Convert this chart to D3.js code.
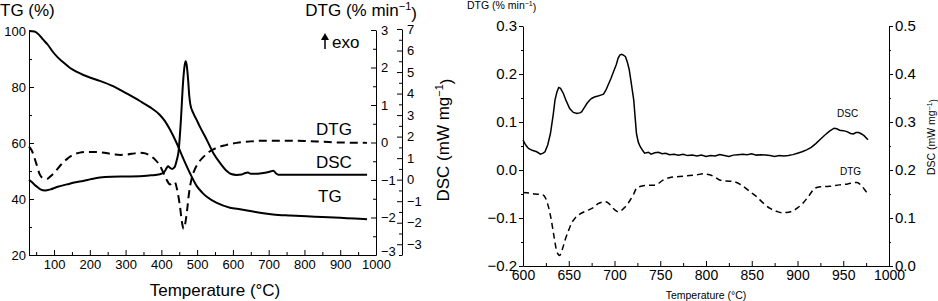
<!DOCTYPE html>
<html>
<head>
<meta charset="utf-8">
<script src="https://cdn.jsdelivr.net/npm/d3@7"></script>
<style>
  html, body { margin: 0; padding: 0; background: #fff; }
  svg { display: block; font-family: "Liberation Sans", Arial, Helvetica, sans-serif; }
  .axis path, .axis line { stroke: #000; stroke-width: 1; }
  .axis text { fill: #000; }
</style>
</head>
<body>
<svg id="chart" width="938" height="301"></svg>
<script>
// ---------- Left panel data (full range) ----------
const leftTG_T = [30,45,55,69,83,97,111,125,145,164,182,200,228,265,304,340,368,396,410,424,443,461,480,499,515,527,555,592,620,648,680,712,760,806,850,900,940,975];
const leftTG   = [100,99.8,99,97,95,92.5,90.5,88.9,86.8,85.4,84.3,83.4,82.2,80.3,77.6,75.0,72.8,70.0,67.8,64.8,59.9,54.5,49.2,44.6,42.2,40.8,38.6,36.9,36.3,35.7,35.0,34.5,34.1,33.8,33.6,33.3,33.0,32.8];

const leftDTG_T = [30,37,50,60,69,80,89,103,117,135,153,172,192,228,265,285,304,325,340,355,368,382,396,408,418,424,430,437,445,452,458,462,467,472,478,485,492,503,517,535,555,580,611,650,700,750,800,850,900,975];
const leftDTG   = [-0.11,-0.2,-0.55,-0.85,-0.95,-0.97,-0.91,-0.78,-0.62,-0.45,-0.33,-0.27,-0.25,-0.26,-0.31,-0.33,-0.32,-0.29,-0.27,-0.29,-0.35,-0.45,-0.62,-0.85,-1.05,-1.12,-1.08,-1.05,-1.3,-1.7,-2.15,-2.3,-2.15,-1.8,-1.3,-0.95,-0.75,-0.55,-0.39,-0.24,-0.14,-0.07,-0.01,0.03,0.05,0.05,0.04,0.02,0.0,-0.01];

const leftDSC_T = [30,37,50,62,75,90,110,136,160,181,205,228,260,300,340,370,396,408,415,419,424,430,437,443,448,454,461,465,468,471,475,478,481,489,498,508,527,545,564,583,595,610,625,635,642,650,670,690,705,713,720,727,750,800,850,900,975];
const leftDSC   = [0.0,-0.1,-0.3,-0.45,-0.5,-0.45,-0.33,-0.22,-0.12,-0.06,0.03,0.1,0.14,0.15,0.16,0.2,0.25,0.35,0.55,0.62,0.55,0.5,0.58,0.9,1.3,2.6,4.6,5.3,5.5,5.3,4.6,3.9,3.5,3.1,2.8,2.45,1.85,1.24,0.78,0.4,0.26,0.22,0.24,0.31,0.33,0.27,0.28,0.32,0.38,0.42,0.3,0.23,0.23,0.23,0.23,0.23,0.23];

const leftXTicks   = [100,200,300,400,500,600,700,800,900,1000];
const leftTGTicks  = [20,40,60,80,100];
const leftDTGTicks = [-3,-2,-1,0,1,2,3];
const leftDSCTicks = [-3,-2,-1,0,1,2,3,4,5,6,7];

// ---------- Right panel data (600-1000 zoom) ----------
const rightDSC_T = [600,603,606,610,615,619,622,624,627,630,633,635,637,639,641,644,647,651,655,659,662,664,667,670,673,675,678,682,685,688,691,693,696,699,702,704,706,708,710,712,714,716,718,721,724,726,728,731,733,737,740,744,748,752,756,760,765,770,775,780,785,790,795,800,805,810,815,820,825,830,835,840,845,850,855,860,865,870,875,880,885,890,895,900,905,910,915,920,925,930,935,940,943,946,950,954,958,961,964,967,970,973,977];
const rightDSC   = [0.2625,0.252,0.245,0.241,0.238,0.233,0.235,0.238,0.252,0.276,0.315,0.346,0.362,0.372,0.37,0.36,0.345,0.328,0.32,0.318,0.319,0.321,0.33,0.339,0.346,0.349,0.352,0.354,0.356,0.358,0.368,0.377,0.39,0.405,0.42,0.433,0.44,0.441,0.439,0.436,0.425,0.41,0.385,0.346,0.276,0.258,0.249,0.24,0.235,0.237,0.233,0.236,0.237,0.234,0.235,0.232,0.233,0.231,0.233,0.23,0.231,0.229,0.231,0.228,0.23,0.229,0.232,0.23,0.228,0.231,0.232,0.233,0.232,0.234,0.231,0.232,0.231,0.23,0.228,0.23,0.229,0.23,0.232,0.235,0.238,0.242,0.247,0.255,0.264,0.273,0.281,0.287,0.286,0.283,0.282,0.28,0.276,0.275,0.278,0.278,0.275,0.271,0.263];

const rightDTG_T = [600,607,613,619,622,625,628,631,634,637,640,643,646,650,653,657,662,667,673,678,682,686,690,694,697,701,704,707,710,714,717,721,724,729,735,742,748,753,760,768,780,790,797,804,810,815,822,830,840,848,855,862,870,877,883,890,895,900,906,912,919,925,935,946,955,965,970,975,978];
const rightDTG   = [-0.047,-0.048,-0.05,-0.051,-0.052,-0.06,-0.078,-0.105,-0.14,-0.17,-0.178,-0.165,-0.146,-0.125,-0.111,-0.1,-0.092,-0.087,-0.082,-0.077,-0.07,-0.067,-0.066,-0.07,-0.077,-0.084,-0.087,-0.085,-0.08,-0.072,-0.063,-0.05,-0.038,-0.034,-0.032,-0.032,-0.028,-0.021,-0.016,-0.014,-0.012,-0.01,-0.008,-0.01,-0.015,-0.021,-0.023,-0.024,-0.033,-0.045,-0.055,-0.068,-0.08,-0.086,-0.089,-0.088,-0.085,-0.079,-0.069,-0.055,-0.038,-0.035,-0.034,-0.031,-0.029,-0.026,-0.033,-0.045,-0.052];

const rightXTicks   = [600,650,700,750,800,850,900,950,1000];
const rightDTGTicks = [-0.2,-0.1,0.0,0.1,0.2,0.3];
const rightDSCTicks = [0.0,0.1,0.2,0.3,0.4,0.5];

// ---------- Drawing ----------
const svg = d3.select("#chart");
svg.append("rect").attr("width",938).attr("height",301).attr("fill","#fff");

function minorRange(a,b,step){ const r=[]; for(let v=a; v<=b+1e-9; v+=step) r.push(+v.toFixed(4)); return r; }
function styleAxis(g, fs){ g.selectAll("text").style("font-size", fs+"px"); }

// ===== Left panel =====
const xL = d3.scaleLinear().domain([30,1000]).range([29,376]);
const yTG = d3.scaleLinear().domain([20,100]).range([255,31]);
const yDTG = d3.scaleLinear().domain([-3,3]).range([255,30]);
const yDSC = d3.scaleLinear().domain([-3.5,7]).range([255,29]);
const L = svg.append("g");
const fsL = 13;

L.append("g").attr("class","axis").attr("transform","translate(0,255)")
  .call(d3.axisBottom(xL).tickValues(leftXTicks).tickSize(-5).tickPadding(5).tickSizeOuter(0).tickFormat(d3.format("d")))
  .call(g=>styleAxis(g,fsL));
L.append("g").attr("class","axis").attr("transform","translate(0,255)")
  .call(d3.axisBottom(xL).tickValues(minorRange(50,950,100)).tickSize(-3).tickFormat("").tickSizeOuter(0))
  .call(g=>g.select(".domain").remove());
L.append("g").attr("class","axis").attr("transform","translate(29,0)")
  .call(d3.axisLeft(yTG).tickValues(leftTGTicks).tickSize(-5).tickPadding(3).tickSizeOuter(0))
  .call(g=>styleAxis(g,fsL));
L.append("g").attr("class","axis").attr("transform","translate(29,0)")
  .call(d3.axisLeft(yTG).tickValues(minorRange(30,90,20)).tickSize(-3).tickFormat("").tickSizeOuter(0))
  .call(g=>g.select(".domain").remove());
L.append("g").attr("class","axis").attr("transform","translate(376,0)")
  .call(d3.axisRight(yDTG).tickValues(leftDTGTicks).tickSize(-5).tickPadding(5).tickSizeOuter(0).tickFormat(d3.format("d")))
  .call(g=>styleAxis(g,fsL))
  .call(g=>g.selectAll(".tick text").filter(d=>d===-3).attr("dy","0.05em"));
L.append("g").attr("class","axis").attr("transform","translate(376,0)")
  .call(d3.axisRight(yDTG).tickValues(minorRange(-2.5,2.5,1)).tickSize(-3).tickFormat("").tickSizeOuter(0))
  .call(g=>g.select(".domain").remove());
L.append("g").attr("class","axis").attr("transform","translate(402,0)")
  .call(d3.axisRight(yDSC).tickValues(leftDSCTicks).tickSize(-5).tickPadding(5).tickSizeOuter(0).tickFormat(d3.format("d")))
  .call(g=>styleAxis(g,fsL));
L.append("g").attr("class","axis").attr("transform","translate(402,0)")
  .call(d3.axisRight(yDSC).tickValues(minorRange(-3.5,6.5,1)).tickSize(-3).tickFormat("").tickSizeOuter(0))
  .call(g=>g.select(".domain").remove());

const lineTG = d3.line().x((d,i)=>xL(leftTG_T[i])).y(d=>yTG(d)).curve(d3.curveMonotoneX);
const lineDTGL = d3.line().x((d,i)=>xL(leftDTG_T[i])).y(d=>yDTG(d)).curve(d3.curveMonotoneX);
const lineDSCL = d3.line().x((d,i)=>xL(leftDSC_T[i])).y(d=>yDSC(d)).curve(d3.curveMonotoneX);
L.append("path").attr("d",lineTG(leftTG)).attr("fill","none").attr("stroke","#000").attr("stroke-width",2);
L.append("path").attr("d",lineDSCL(leftDSC)).attr("fill","none").attr("stroke","#000").attr("stroke-width",2);
L.append("path").attr("d",lineDTGL(leftDTG)).attr("fill","none").attr("stroke","#000").attr("stroke-width",2).attr("stroke-dasharray","8,5");

const fsT = 17;
L.append("text").attr("x",0).attr("y",16).style("font-size",fsT+"px").text("TG (%)");
const dtgT = L.append("text").attr("x",417).attr("y",16).attr("text-anchor","end").style("font-size",fsT+"px");
dtgT.append("tspan").text("DTG (% min");
dtgT.append("tspan").attr("dy","-0.55em").style("font-size","11px").text("\u22121");
dtgT.append("tspan").attr("dy","0.55em").text(")");
const dscT = L.append("text").attr("transform","translate(449,140) rotate(-90)").attr("text-anchor","middle").style("font-size",fsT+"px");
dscT.append("tspan").text("DSC (mW mg");
dscT.append("tspan").attr("dy","-0.55em").style("font-size","11px").text("\u22121");
dscT.append("tspan").attr("dy","0.55em").text(")");
L.append("text").attr("x",215).attr("y",296).attr("text-anchor","middle").style("font-size",fsT+"px").text("Temperature (\u00B0C)");

L.append("line").attr("x1",325).attr("x2",325).attr("y1",49).attr("y2",39).attr("stroke","#000").attr("stroke-width",1.5);
L.append("path").attr("d","M321,40 L325,33 L329,40 Z").attr("fill","#000");
L.append("text").attr("x",332).attr("y",48).style("font-size",fsT+"px").text("exo");
L.append("text").attr("x",316).attr("y",135).style("font-size",fsT+"px").text("DTG");
L.append("text").attr("x",316).attr("y",168).style("font-size",fsT+"px").text("DSC");
L.append("text").attr("x",318).attr("y",202).style("font-size",fsT+"px").text("TG");

// ===== Right panel =====
const xR = d3.scaleLinear().domain([600,1000]).range([523,889]);
const yR = d3.scaleLinear().domain([-0.2,0.3]).range([266,26]);
const yR2 = d3.scaleLinear().domain([0,0.5]).range([266,26]);
const R = svg.append("g");
const fsR = 15;

R.append("g").attr("class","axis").attr("transform","translate(0,266)")
  .call(d3.axisBottom(xR).tickValues(rightXTicks).tickSize(-5).tickPadding(4).tickSizeOuter(0).tickFormat(d3.format("d")))
  .call(g=>styleAxis(g,14));
R.append("g").attr("class","axis").attr("transform","translate(0,266)")
  .call(d3.axisBottom(xR).tickValues(minorRange(625,975,50)).tickSize(-3).tickFormat("").tickSizeOuter(0))
  .call(g=>g.select(".domain").remove());
R.append("g").attr("class","axis").attr("transform","translate(523,0)")
  .call(d3.axisLeft(yR).tickValues(rightDTGTicks).tickSize(4).tickPadding(2).tickSizeOuter(0).tickFormat(d3.format(".1f")))
  .call(g=>styleAxis(g,fsR));
R.append("g").attr("class","axis").attr("transform","translate(523,0)")
  .call(d3.axisLeft(yR).tickValues(minorRange(-0.15,0.25,0.1)).tickSize(2).tickFormat("").tickSizeOuter(0))
  .call(g=>g.select(".domain").remove());
R.append("g").attr("class","axis").attr("transform","translate(889,0)")
  .call(d3.axisRight(yR2).tickValues(rightDSCTicks).tickSize(4).tickPadding(2).tickSizeOuter(0).tickFormat(d3.format(".1f")))
  .call(g=>styleAxis(g,fsR));
R.append("g").attr("class","axis").attr("transform","translate(889,0)")
  .call(d3.axisRight(yR2).tickValues(minorRange(0.05,0.45,0.1)).tickSize(2).tickFormat("").tickSizeOuter(0))
  .call(g=>g.select(".domain").remove());

const lineDSCR = d3.line().x((d,i)=>xR(rightDSC_T[i])).y(d=>yR2(d));
const lineDTGR = d3.line().x((d,i)=>xR(rightDTG_T[i])).y(d=>yR(d)).curve(d3.curveMonotoneX);
R.append("path").attr("d",lineDSCR(rightDSC)).attr("fill","none").attr("stroke","#000").attr("stroke-width",1.5);
R.append("path").attr("d",lineDTGR(rightDTG)).attr("fill","none").attr("stroke","#000").attr("stroke-width",1.5).attr("stroke-dasharray","6,4");

const fsS = 10.5;
const rT1 = R.append("text").attr("x",467).attr("y",9).style("font-size",fsS+"px");
rT1.append("tspan").text("DTG (% min");
rT1.append("tspan").attr("dy","-0.5em").style("font-size","7px").text("\u22121");
rT1.append("tspan").attr("dy","0.5em").text(")");
const rT2 = R.append("text").attr("transform","translate(935,137) rotate(-90)").attr("text-anchor","middle").style("font-size",fsS+"px");
rT2.append("tspan").text("DSC (mW mg");
rT2.append("tspan").attr("dy","-0.5em").style("font-size","7px").text("\u22121");
rT2.append("tspan").attr("dy","0.5em").text(")");
R.append("text").attr("x",706).attr("y",299).attr("text-anchor","middle").style("font-size",fsS+"px").text("Temperature (\u00B0C)");
R.append("text").attr("x",837).attr("y",117).style("font-size","10px").text("DSC");
R.append("text").attr("x",840).attr("y",175).style("font-size","10px").text("DTG");
</script>
</body>
</html>
